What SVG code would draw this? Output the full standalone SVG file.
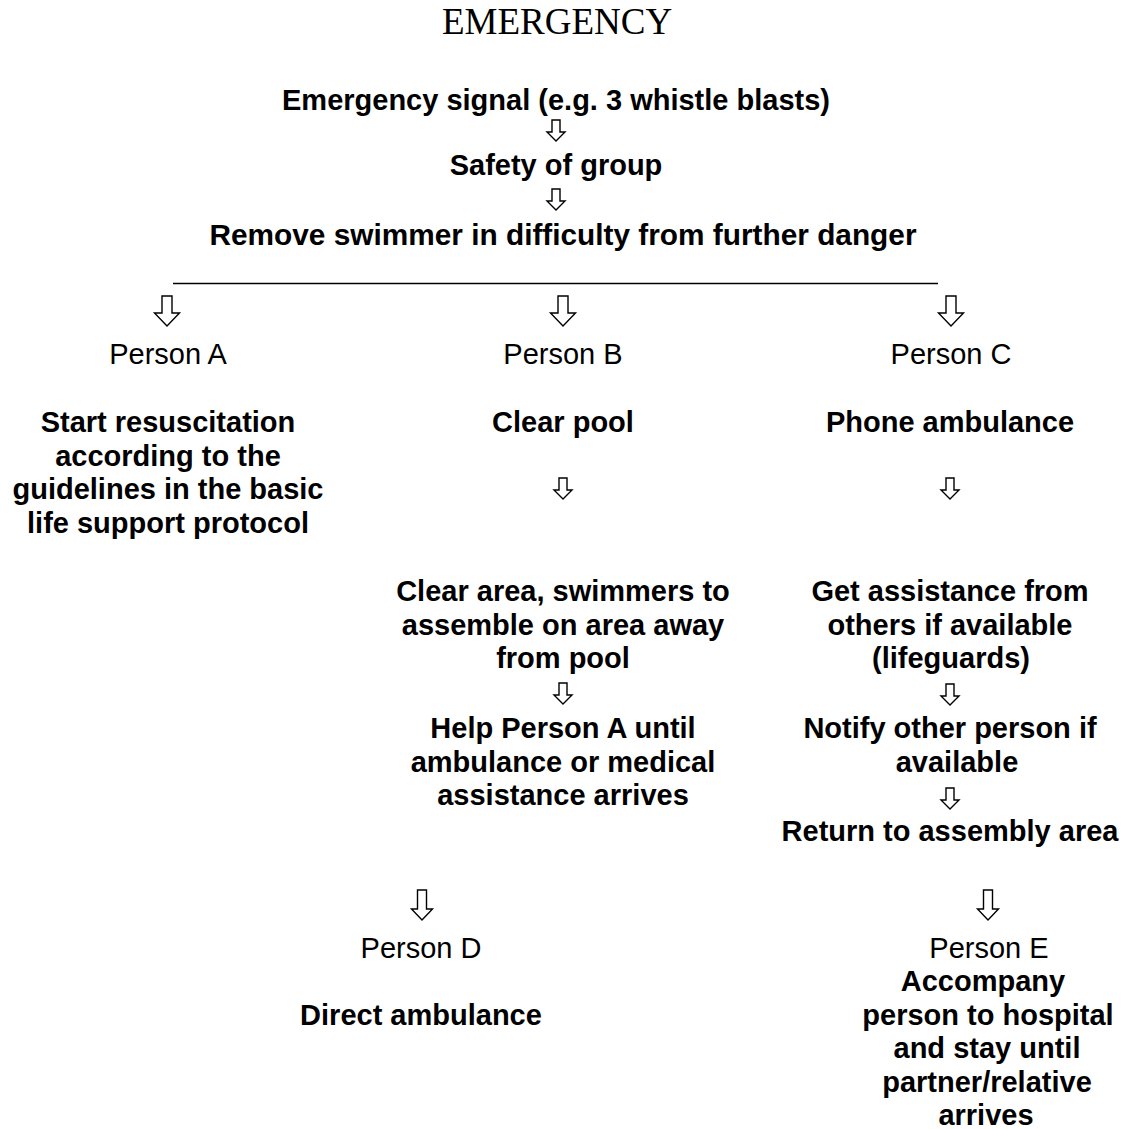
<svg xmlns="http://www.w3.org/2000/svg" width="1126" height="1129" viewBox="0 0 1126 1129">
<style>
text{font-family:"Liberation Sans",Arial,sans-serif;font-size:29px;fill:#000;text-anchor:middle}
.b{font-weight:bold}
.t{font-family:"Liberation Serif","Times New Roman",serif;font-size:37px}
.arr{fill:#fff;stroke:#000;stroke-width:1.4;stroke-linejoin:miter}
.rule{stroke:#000;stroke-width:1.6}
</style>
<rect width="1126" height="1129" fill="#fff"/>
<g id="title"><text class="t" x="557" y="34">EMERGENCY</text></g>
<g id="signal"><text class="b" x="556" y="110">Emergency signal (e.g. 3 whistle blasts)</text></g>
<g id="safety"><text class="b" x="556" y="175">Safety of group</text></g>
<g id="remove"><text class="b" x="563" y="245" style="font-size:29.8px">Remove swimmer in difficulty from further danger</text></g>
<g id="personA">
<text x="168" y="364">Person A</text>
<text class="b" x="168" y="432">Start resuscitation</text>
<text class="b" x="168" y="465.5">according to the</text>
<text class="b" x="168" y="499">guidelines in the basic</text>
<text class="b" x="168" y="532.5">life support protocol</text>
</g>
<g id="personB">
<text x="563" y="364">Person B</text>
<text class="b" x="563" y="432">Clear pool</text>
</g>
<g id="clearArea">
<text class="b" x="563" y="601">Clear area, swimmers to</text>
<text class="b" x="563" y="634.5">assemble on area away</text>
<text class="b" x="563" y="668">from pool</text>
</g>
<g id="helpA">
<text class="b" x="563" y="738">Help Person A until</text>
<text class="b" x="563" y="771.5">ambulance or medical</text>
<text class="b" x="563" y="805">assistance arrives</text>
</g>
<g id="personC">
<text x="951" y="364">Person C</text>
<text class="b" x="950" y="432">Phone ambulance</text>
</g>
<g id="getAssistance">
<text class="b" x="950" y="601">Get assistance from</text>
<text class="b" x="950" y="634.5">others if available</text>
<text class="b" x="951" y="668">(lifeguards)</text>
</g>
<g id="notify">
<text class="b" x="950" y="738">Notify other person if</text>
<text class="b" x="957" y="771.5">available</text>
</g>
<g id="returnArea"><text class="b" x="950" y="841">Return to assembly area</text></g>
<g id="personD">
<text x="421" y="958">Person D</text>
<text class="b" x="421" y="1025">Direct ambulance</text>
</g>
<g id="personE">
<text x="989" y="958">Person E</text>
<text class="b" x="983" y="991">Accompany</text>
<text class="b" x="988" y="1024.5">person to hospital</text>
<text class="b" x="987" y="1058">and stay until</text>
<text class="b" x="987" y="1091.5">partner/relative</text>
<text class="b" x="986" y="1125">arrives</text>
</g>
<g id="connectors">
<line class="rule" x1="173" y1="283.5" x2="938" y2="283.5"/>
<polygon class="arr" points="552,120 560,120 560,132 565,132 556,141 547,132 552,132"/>
<polygon class="arr" points="552,189 560,189 560,201 565,201 556,210 547,201 552,201"/>
<polygon class="arr" points="559,478 567,478 567,490 572,490 563,499 554,490 559,490"/>
<polygon class="arr" points="946,478 954,478 954,490 959,490 950,499 941,490 946,490"/>
<polygon class="arr" points="559,683 567,683 567,695 572,695 563,704 554,695 559,695"/>
<polygon class="arr" points="946,684 954,684 954,696 959,696 950,705 941,696 946,696"/>
<polygon class="arr" points="946,788 954,788 954,800 959,800 950,809 941,800 946,800"/>
<polygon class="arr" points="162,296 172,296 172,313 179.5,313 167,326 154.5,313 162,313"/>
<polygon class="arr" points="558,296 568,296 568,313 575.5,313 563,326 550.5,313 558,313"/>
<polygon class="arr" points="946,296 956,296 956,313 963.5,313 951,326 938.5,313 946,313"/>
<polygon class="arr" points="417.5,890 426.5,890 426.5,909 432.5,909 422,920 411.5,909 417.5,909"/>
<polygon class="arr" points="983.5,890 992.5,890 992.5,909 998.5,909 988,920 977.5,909 983.5,909"/>
</g>
</svg>
